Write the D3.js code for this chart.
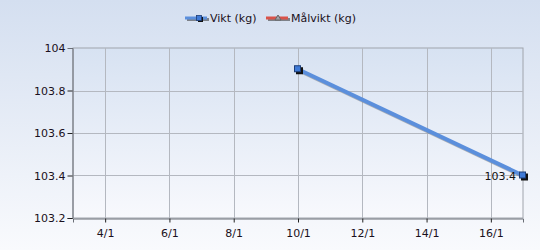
<!DOCTYPE html>
<html>
<head>
<meta charset="utf-8">
<script src="https://cdn.jsdelivr.net/npm/d3@7"></script>
<style>
  html, body { margin: 0; padding: 0; }
  body { width: 540px; height: 250px; overflow: hidden; }
  svg { display: block; font-family: "DejaVu Sans", sans-serif; }
</style>
</head>
<body>
<svg id="chart" width="540" height="250"></svg>
<script>
// weight series
const dates = ['2024-01-10', '2024-01-17']
const weights = [103.9, 103.4]
const xTickDays = [4, 6, 8, 10, 12, 14, 16]
const yTicks = [103.2, 103.4, 103.6, 103.8, 104]
const legendNames = ['Vikt (kg)', 'Målvikt (kg)']
const legendColors = ['#5b8fdc', '#d9534a']

const margin = { top: 48, right: 17, bottom: 32, left: 73 }
const width = 540
const height = 250

const parse = d3.timeParse('%Y-%m-%d')
const data = dates.map((d, i) => ({ date: parse(d), value: weights[i] }))

const svg = d3.select('#chart')
const defs = svg.append('defs')

const bg = defs.append('linearGradient').attr('id', 'bg').attr('x1', 0).attr('y1', 0).attr('x2', 0).attr('y2', 1)
bg.append('stop').attr('offset', '0%').attr('stop-color', '#d4dff0')
bg.append('stop').attr('offset', '100%').attr('stop-color', '#f9fafd')

const pg = defs.append('linearGradient').attr('id', 'pg').attr('x1', 0).attr('y1', 0).attr('x2', 0).attr('y2', 1)
pg.append('stop').attr('offset', '0%').attr('stop-color', '#d7e2f2')
pg.append('stop').attr('offset', '100%').attr('stop-color', '#f8f9fd')

svg.append('rect').attr('width', width).attr('height', height).attr('fill', 'url(#bg)')

const xScale = d3.scaleTime()
  .domain([new Date(2024, 0, 3), new Date(2024, 0, 17)])
  .range([margin.left, width - margin.right])

const yScale = d3.scaleLinear()
  .domain([103.2, 104])
  .range([height - margin.bottom, margin.top])

// plot area
svg.append('rect')
  .attr('x', margin.left).attr('y', margin.top)
  .attr('width', width - margin.left - margin.right)
  .attr('height', height - margin.top - margin.bottom)
  .attr('fill', 'url(#pg)')
  .attr('stroke', '#a0a4ac')

// gridlines
const grid = svg.append('g').attr('stroke', '#b4b8c0').attr('stroke-width', 1)
grid.selectAll('.vx')
  .data(xTickDays)
  .enter().append('line')
  .attr('x1', d => Math.round(xScale(new Date(2024, 0, d))) + 0.5)
  .attr('x2', d => Math.round(xScale(new Date(2024, 0, d))) + 0.5)
  .attr('y1', margin.top).attr('y2', height - margin.bottom)
grid.selectAll('.hy')
  .data(yTicks.slice(1, -1))
  .enter().append('line')
  .attr('y1', d => Math.round(yScale(d)) + 0.5)
  .attr('y2', d => Math.round(yScale(d)) + 0.5)
  .attr('x1', margin.left).attr('x2', width - margin.right)

// axes
const xAxisG = svg.append('g')
  .attr('transform', `translate(0, ${height - margin.bottom + 0.5})`)
  .call(d3.axisBottom(xScale)
    .tickValues(xTickDays.map(d => new Date(2024, 0, d)))
    .tickFormat(d3.timeFormat('%-d/%-m'))
    .tickSize(4))
xAxisG.select('.domain').attr('stroke', '#6a6e76')
xAxisG.selectAll('.tick line').attr('stroke', '#222')
xAxisG.selectAll('.tick text').attr('fill', '#1a1020').attr('font-size', 11).attr('dy', '1.05em')
xAxisG.attr('font-family', null)

const yAxisG = svg.append('g')
  .attr('transform', `translate(${margin.left - 0.5}, 0)`)
  .call(d3.axisLeft(yScale).tickValues(yTicks).tickFormat(d => d).tickSize(5))
yAxisG.select('.domain').attr('stroke', '#6a6e76')
yAxisG.selectAll('.tick line').attr('stroke', '#222')
yAxisG.selectAll('.tick').filter(d => d === 104).select('line').remove()
yAxisG.selectAll('.tick text').attr('fill', '#1a1020').attr('font-size', 11).attr('x', -7)
yAxisG.attr('font-family', null)

// series line with shadow
const line = d3.line().x(d => xScale(d.date)).y(d => yScale(d.value))
svg.append('path').datum(data)
  .attr('d', line)
  .attr('transform', 'translate(1.5,1.5)')
  .attr('fill', 'none').attr('stroke', '#808488').attr('stroke-width', 4).attr('opacity', 0.6)
svg.append('path').datum(data)
  .attr('d', line)
  .attr('fill', 'none').attr('stroke', legendColors[0]).attr('stroke-width', 4)

// markers
svg.selectAll('.shadow')
  .data(data)
  .enter().append('rect')
  .attr('x', d => xScale(d.date) - 2).attr('y', d => yScale(d.value) - 2)
  .attr('width', 7).attr('height', 7).attr('fill', '#111')
svg.selectAll('.mark')
  .data(data)
  .enter().append('rect')
  .attr('x', d => xScale(d.date) - 3.5).attr('y', d => yScale(d.value) - 3.5)
  .attr('width', 6).attr('height', 6)
  .attr('fill', '#3f7ad6').attr('stroke', '#1d3e78').attr('stroke-width', 1)

// last value label
const last = data[data.length - 1]
svg.append('text')
  .attr('x', xScale(last.date) - 7).attr('y', yScale(last.value) + 4)
  .attr('text-anchor', 'end').attr('font-size', 11).attr('fill', '#111')
  .text(last.value)

// legend
const legend = svg.append('g').attr('transform', 'translate(185, 18)')
const lx = [0, 81]
legendNames.forEach((name, i) => {
  const g = legend.append('g').attr('transform', `translate(${lx[i]}, 0)`)
  g.append('line').attr('x1', 2).attr('x2', 24).attr('y1', 1.5).attr('y2', 1.5)
    .attr('stroke', '#7d8188').attr('stroke-width', 3)
  g.append('line').attr('x1', 0).attr('x2', 22).attr('y1', 0).attr('y2', 0)
    .attr('stroke', legendColors[i]).attr('stroke-width', 3)
  if (i === 0) {
    g.append('rect').attr('x', 13).attr('y', -1).attr('width', 5).attr('height', 5).attr('fill', '#111')
    g.append('rect').attr('x', 11.5).attr('y', -2.5).attr('width', 5).attr('height', 5)
      .attr('fill', '#3f7ad6').attr('stroke', '#1d3e78').attr('stroke-width', 0.8)
  } else {
    g.append('path').attr('d', 'M9,2 L12,-3 L15,2 Z').attr('fill', '#a0a0a8').attr('stroke', '#666')
  }
  g.append('text').attr('x', 25).attr('y', 4).attr('font-size', 11).attr('fill', '#1a1020').text(name)
})
</script>
</body>
</html>
